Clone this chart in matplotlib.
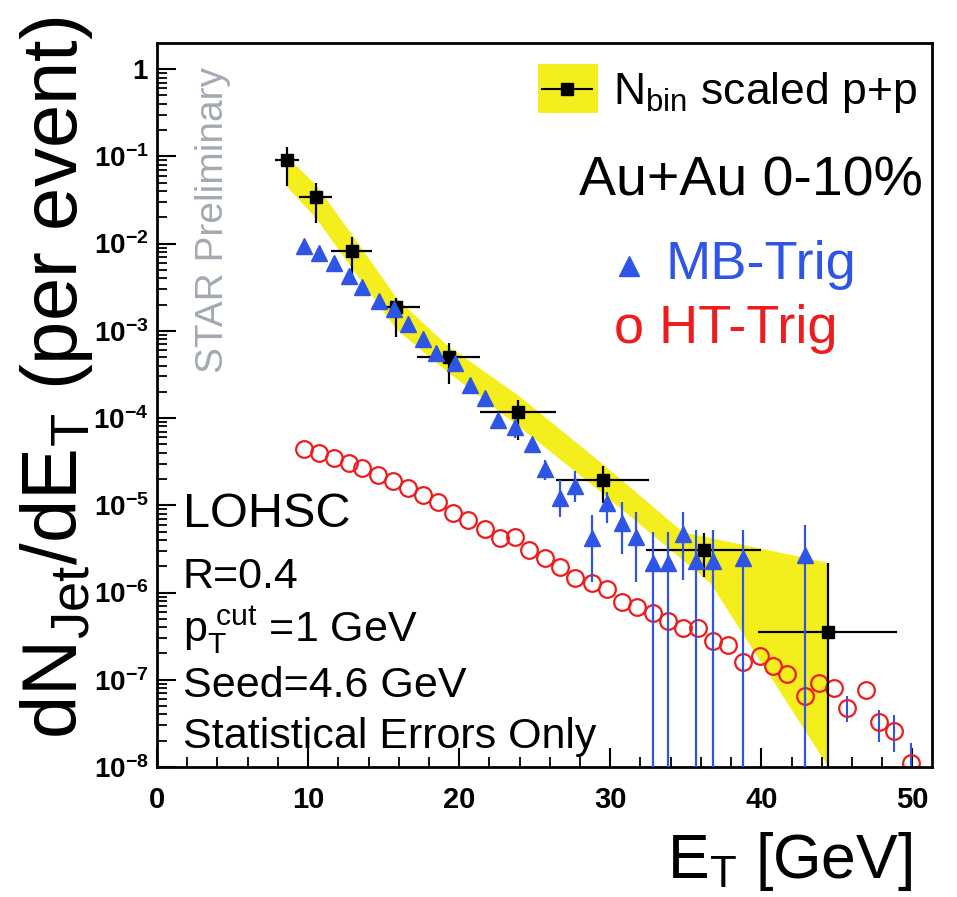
import numpy as np
import matplotlib.pyplot as plt
from matplotlib.patches import Rectangle
from matplotlib.lines import Line2D
from matplotlib.ticker import MultipleLocator, FixedLocator, LogLocator, NullFormatter

plt.rcParams['font.family'] = ['Liberation Sans', 'DejaVu Sans']
plt.rcParams['mathtext.fontset'] = 'custom'
plt.rcParams['mathtext.rm'] = 'Liberation Sans'
plt.rcParams['mathtext.it'] = 'Liberation Sans:italic'
plt.rcParams['mathtext.bf'] = 'Liberation Sans:bold'

# N_bin scaled p+p reference (black squares)
pp_et = [8.6, 10.5, 12.9, 15.8, 19.3, 23.9, 29.5, 36.2, 44.4]
pp_et_err = [0.8, 1.1, 1.35, 1.6, 2.1, 2.5, 3.1, 3.8, 4.6]
pp_y = [0.091, 0.034, 0.0082, 1.87e-3, 4.98e-4, 1.17e-4, 1.94e-5, 3.05e-6, 3.5e-7]
pp_lo = [0.0455, 0.0171, 0.00434, 8.45e-4, 2.44e-4, 5.6e-5, 1.05e-5, 1.49e-6, 1e-10]
pp_hi = [0.128, 0.0493, 0.0118, 2.37e-3, 7.2e-4, 1.6e-4, 2.8e-5, 4.8e-6, 2.16e-6]

# systematic band of the p+p reference (yellow)
band_up_et = [8.61, 10.53, 12.91, 15.89, 19.21, 23.91, 29.47, 34.83, 44.44]
band_up = [0.098, 0.047, 0.0126, 2.34e-3, 6.8e-4, 1.82e-4, 3.0e-5, 4.9e-6, 2.19e-6]
band_lo_et = [8.61, 10.53, 12.91, 15.89, 19.21, 23.91, 29.47, 36.62, 44.44]
band_lo = [0.0447, 0.0195, 5.2e-3, 1.02e-3, 3.4e-4, 8.1e-5, 1.38e-5, 1.29e-6, 1e-8]

# MB-Trig (blue triangles)
mb_et = [9.7, 10.7, 11.7, 12.7, 13.6, 14.7, 15.7, 16.6, 17.6, 18.5,
         19.7, 20.7, 21.7, 22.6, 23.7, 24.8, 25.7, 26.7, 27.7, 28.8,
         29.8, 30.8, 31.7, 32.8, 33.8, 34.8, 35.7, 36.8, 38.8, 42.9]
mb_y = [9.3e-3, 7.8e-3, 6.0e-3, 4.3e-3, 3.2e-3, 2.2e-3, 1.8e-3, 1.2e-3, 8.0e-4, 5.5e-4,
        4.3e-4, 2.4e-4, 1.7e-4, 9.4e-5, 7.8e-5, 5.1e-5, 2.6e-5, 1.2e-5, 1.65e-5, 4.2e-6,
        1.05e-5, 6.2e-6, 4.3e-6, 2.2e-6, 2.2e-6, 4.7e-6, 2.3e-6, 2.3e-6, 2.5e-6, 2.7e-6]
mb_lo = [9.3e-3, 7.8e-3, 6.0e-3, 4.3e-3, 3.2e-3, 2.2e-3, 1.8e-3, 1.2e-3, 8.0e-4, 5.5e-4,
         4.3e-4, 2.4e-4, 1.7e-4, 8.0e-5, 5.9e-5, 4.4e-5, 1.94e-5, 7.3e-6, 1.08e-5, 1.31e-6,
         6.2e-6, 2.8e-6, 1.31e-6, 1e-10, 1e-10, 1.38e-6, 1e-10, 1e-10, 1e-10, 1e-10]
mb_hi = [9.3e-3, 7.8e-3, 6.0e-3, 4.3e-3, 3.2e-3, 2.2e-3, 1.8e-3, 1.2e-3, 8.0e-4, 5.5e-4,
         4.3e-4, 2.4e-4, 1.7e-4, 1.1e-4, 9.0e-5, 5.8e-5, 3.3e-5, 1.94e-5, 2.5e-5, 7.7e-6,
         1.41e-5, 1.08e-5, 8.3e-6, 4.9e-6, 4.9e-6, 8.3e-6, 5.2e-6, 5.2e-6, 5.2e-6, 5.9e-6]

# HT-Trig (red open circles)
ht_et = [9.7, 10.7, 11.7, 12.7, 13.6, 14.6, 15.6, 16.6, 17.6, 18.6,
         19.6, 20.6, 21.7, 22.7, 23.7, 24.6, 25.7, 26.7, 27.7, 28.8,
         29.8, 30.8, 31.8, 32.8, 33.8, 34.8, 35.8, 36.8, 37.8, 38.8,
         39.9, 40.8, 41.7, 42.9, 43.8, 44.8, 45.7, 46.9, 47.8, 48.8, 49.9]
ht_y = [4.39e-5, 3.95e-5, 3.46e-5, 3.03e-5, 2.66e-5, 2.21e-5, 1.88e-5, 1.57e-5, 1.30e-5, 1.08e-5,
        8.1e-6, 6.7e-6, 5.4e-6, 4.2e-6, 4.3e-6, 3.05e-6, 2.47e-6, 1.95e-6, 1.46e-6, 1.28e-6,
        1.09e-6, 7.7e-7, 6.8e-7, 5.9e-7, 4.7e-7, 3.9e-7, 3.9e-7, 2.75e-7, 2.48e-7, 1.58e-7,
        1.85e-7, 1.43e-7, 1.15e-7, 6.6e-8, 9.1e-8, 8.0e-8, 4.8e-8, 7.6e-8, 3.3e-8, 2.6e-8, 1.1e-8]
ht_bar_et = [45.7, 47.8, 48.8, 49.9]
ht_bar_lo = [3.25e-8, 1.91e-8, 1.47e-8, 1e-10]
ht_bar_hi = [6.6e-8, 4.45e-8, 3.9e-8, 1.87e-8]

W, H = 957, 897
yellow = '#f4ef1c'
blue = '#2f55e6'
red = '#ee1c1c'

fig = plt.figure(figsize=(W / 100, H / 100), dpi=100)
ax = fig.add_axes([157 / W, 130 / H, 775 / W, 724 / H])
ax.set_yscale('log')

# yellow band
poly_x = band_up_et + [band_up_et[-1]] + band_lo_et[::-1]
poly_y = band_up + [1e-10] + band_lo[::-1]
ax.fill(poly_x, poly_y, color=yellow, lw=0, zorder=1)

# HT-Trig
ax.vlines(ht_bar_et, ht_bar_lo, ht_bar_hi, color=blue, lw=1.5, zorder=2)
ax.plot(ht_et, ht_y, 'o', ms=12, mfc='none', mec=red, mew=1.6, zorder=2)

# p+p reference
pp_y_arr = np.array(pp_y)
ax.errorbar(pp_et, pp_y, xerr=pp_et_err,
            yerr=[pp_y_arr - np.array(pp_lo), np.array(pp_hi) - pp_y_arr],
            fmt='s', color='black', ms=9, elinewidth=1.6, capsize=0, zorder=3)

# MB-Trig
mb_y_arr = np.array(mb_y)
ax.errorbar(mb_et, mb_y,
            yerr=[mb_y_arr - np.array(mb_lo), np.array(mb_hi) - mb_y_arr],
            fmt='^', color=blue, ms=11, elinewidth=1.6, capsize=0, zorder=4)

ax.set_xlim(0, 51.3)
ax.set_ylim(1e-8, 1.99)

ax.xaxis.set_major_locator(FixedLocator([0, 10, 20, 30, 40, 50]))
ax.xaxis.set_minor_locator(MultipleLocator(2))
ax.set_xticklabels(['0', '10', '20', '30', '40', '50'], fontweight='bold', fontsize=21)

ydec = [1e-8, 1e-7, 1e-6, 1e-5, 1e-4, 1e-3, 1e-2, 1e-1, 1]
ylabels = [r'$\mathbf{10^{-%d}}$' % k for k in range(8, 0, -1)] + [r'$\mathbf{1}$']
ax.yaxis.set_major_locator(FixedLocator(ydec))
ax.yaxis.set_minor_locator(LogLocator(base=10, subs=np.arange(2, 10), numticks=20))
ax.yaxis.set_minor_formatter(NullFormatter())
ax.set_yticklabels(ylabels, fontsize=20)

ax.tick_params(which='major', direction='in', length=14, width=1.5, top=False, right=False)
ax.tick_params(which='minor', direction='in', length=7, width=1.3, top=False, right=False)
ax.tick_params(axis='x', which='major', pad=14)
ax.tick_params(axis='y', which='major', pad=6)
for s in ax.spines.values():
    s.set_linewidth(2)


def fx(px):
    return px / W


def fy(py):
    return 1 - py / H


# axis titles
fig.text(fx(57), fy(378), r'dN$_{\mathregular{Jet}}$/dE$_{\mathregular{T}}$ (per event)',
         rotation=90, ha='center', va='center', fontsize=56)
fig.text(fx(912), fy(878), r'E$_{\mathregular{T}}$ [GeV]', ha='right', va='baseline', fontsize=45)

fig.text(fx(213), fy(220), 'STAR Preliminary', rotation=90, ha='center', va='center',
         fontsize=28, color='#a3aab2')

# legend
fig.add_artist(Rectangle((fx(538), fy(113)), 60 / W, 49 / H, transform=fig.transFigure,
                         color=yellow, lw=0))
fig.add_artist(Line2D([fx(542), fx(592)], [fy(89), fy(89)], transform=fig.transFigure,
                      color='black', lw=1.5))
fig.add_artist(Line2D([fx(567)], [fy(89)], transform=fig.transFigure, marker='s',
                      ms=9, color='black'))
fig.text(fx(613), fy(104), r'N$_{\mathregular{bin}}$ scaled p+p', va='baseline', fontsize=32)
fig.text(fx(579), fy(195), 'Au+Au 0-10%', va='baseline', fontsize=40)
fig.add_artist(Line2D([fx(629)], [fy(266)], transform=fig.transFigure, marker='^',
                      ms=14, color=blue, lw=0))
fig.text(fx(665), fy(279), 'MB-Trig', va='baseline', fontsize=39, color=blue)
fig.text(fx(614), fy(343), 'o HT-Trig', va='baseline', fontsize=39, color=red)

# settings text
fig.text(fx(183), fy(527), 'LOHSC', va='baseline', fontsize=35)
fig.text(fx(183), fy(588), 'R=0.4', va='baseline', fontsize=31)
fig.text(fx(183), fy(642), r'$\mathregular{p_T^{\ cut}}$ =1 GeV', va='baseline', fontsize=31)
fig.text(fx(183), fy(697), 'Seed=4.6 GeV', va='baseline', fontsize=31)
fig.text(fx(183), fy(748), 'Statistical Errors Only', va='baseline', fontsize=31)

fig.savefig('out.png', dpi=100)
